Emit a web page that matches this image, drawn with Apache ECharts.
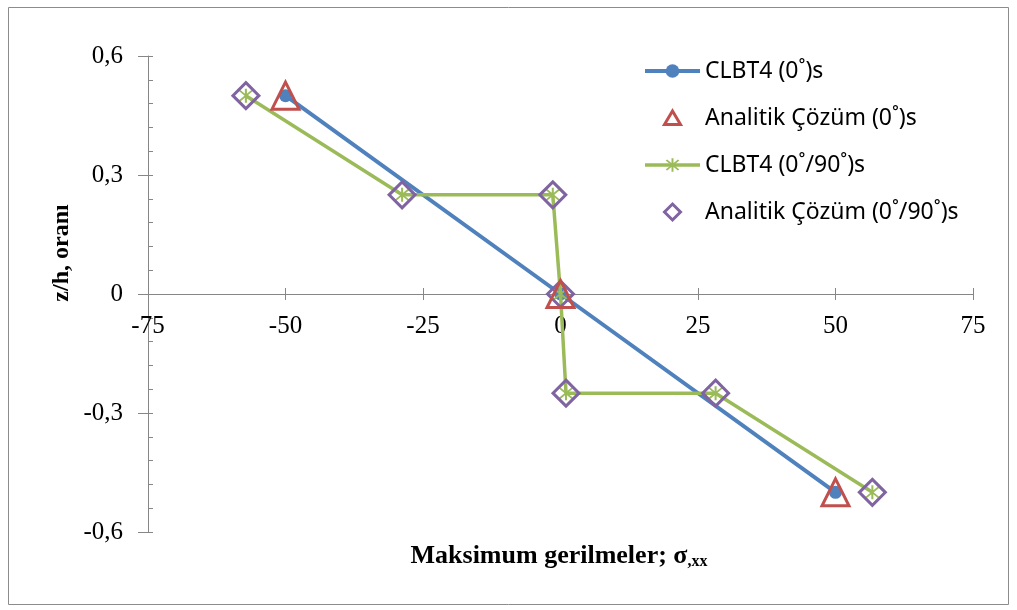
<!DOCTYPE html>
<html>
<head>
<meta charset="utf-8">
<title>Maksimum gerilmeler</title>
<script src="https://cdn.jsdelivr.net/npm/echarts@6/dist/echarts.min.js"></script>
<style>
  html, body { margin: 0; padding: 0; background: #fff; }
  #chart { width: 1017px; height: 610px; }
</style>
</head>
<body>
<div id="chart"></div>
<script>
// Series names as shown in the legend
const seriesNames = [
  'CLBT4 (0˚)s',
  'Analitik Çözüm (0˚)s',
  'CLBT4 (0˚/90˚)s',
  'Analitik Çözüm (0˚/90˚)s'
];

// [σxx, z/h] pairs
const clbt4Cross0 = [[-50, 0.5], [0, 0], [50, -0.5]];
const analytic0 = [[-50, 0.5], [0, 0], [50, -0.5]];
const clbt4Cross090 = [[-57.2, 0.5], [-28.8, 0.25], [-1.4, 0.25], [0, 0], [1, -0.25], [28.2, -0.25], [56.7, -0.5]];
const analytic090 = [[-57.2, 0.5], [-28.8, 0.25], [-1.4, 0.25], [0, 0], [1, -0.25], [28.2, -0.25], [56.7, -0.5]];

// Axis ranges and steps
const xRange = { min: -75, max: 75, step: 25 };
const yRange = { min: -0.6, max: 0.6, step: 0.3, minorStep: 0.06 };

const W = 1017, H = 610;
const grid = { left: 148, right: 44, top: 56, bottom: 78 };
const plotH = H - grid.top - grid.bottom;
// The horizontal axis sits on z/h = 0: shift it up from the grid bottom
const xAxisOffset = -plotH * (0 - yRange.min) / (yRange.max - yRange.min);

const axisGray = '#868686';
const serif = '"Liberation Serif", "Times New Roman", serif';
const sans = '"Noto Sans", sans-serif';

const blue = '#4F81BD', red = '#C0504D', green = '#9BBB59', purple = '#8064A2';
const clear = 'rgba(255,255,255,0)';

// Asterisk marker: vertical bar plus two diagonals
const asterisk = 'path://M-1.2,-10 L1.2,-10 L1.2,10 L-1.2,10 Z ' +
  'M-8.2,-6.5 L-6.5,-8.2 L8.2,6.5 L6.5,8.2 Z ' +
  'M6.5,-8.2 L8.2,-6.5 L-6.5,8.2 L-8.2,6.5 Z';

// Legend icons for the marker-only series, framed in the full legend item box
const legendFrame = 'M-27.5,-8.5 M27.5,8.5 ';
const legendTriangle = 'path://' + legendFrame + 'M0,-7 L8,6.5 L-8,6.5 Z';
const legendDiamond = 'path://' + legendFrame + 'M0,-8 L8,0 L0,8 L-8,0 Z';

const chart = echarts.init(document.getElementById('chart'), null, { renderer: 'canvas' });

const commaFmt = v => {
  const r = Math.round(v * 10) / 10;
  return String(r).replace('.', ',');
};

chart.setOption({
  animation: false,
  backgroundColor: '#fff',
  grid: Object.assign({ containLabel: false, outerBoundsMode: 'none' }, grid),
  legend: {
    orient: 'vertical',
    left: 643,
    top: 58,
    padding: 0,
    itemWidth: 55,
    itemHeight: 17,
    itemGap: 21,
    textStyle: { fontFamily: sans, fontSize: 23, color: '#000', lineHeight: 26 },
    data: [
      { name: seriesNames[0], lineStyle: { width: 4 } },
      { name: seriesNames[1], icon: legendTriangle,
        itemStyle: { color: clear, borderColor: red, borderWidth: 3, opacity: 1 } },
      { name: seriesNames[2], lineStyle: { width: 3.5 } },
      { name: seriesNames[3], icon: legendDiamond,
        itemStyle: { color: clear, borderColor: purple, borderWidth: 3, opacity: 1 } }
    ]
  },
  xAxis: [
    {
      type: 'value',
      position: 'bottom',
      offset: xAxisOffset,
      min: xRange.min, max: xRange.max, interval: xRange.step,
      axisLine: { onZero: false, lineStyle: { color: axisGray, width: 1 } },
      axisTick: { show: true, length: 6, lineStyle: { color: axisGray } },
      axisLabel: { margin: 20, fontFamily: serif, fontSize: 25, color: '#000' },
      splitLine: { show: false }
    },
    {
      type: 'value',
      position: 'bottom',
      offset: xAxisOffset,
      min: xRange.min, max: xRange.max, interval: xRange.step,
      axisLine: { show: false, onZero: false },
      axisTick: { show: true, inside: true, length: 6, lineStyle: { color: axisGray } },
      axisLabel: { show: false },
      splitLine: { show: false }
    }
  ],
  yAxis: [
    {
      type: 'value',
      min: yRange.min, max: yRange.max, interval: yRange.step,
      axisLine: { show: true, onZero: false, lineStyle: { color: axisGray, width: 1 } },
      axisTick: { show: true, length: 10, lineStyle: { color: axisGray } },
      axisLabel: { margin: 25, fontFamily: serif, fontSize: 25, color: '#000', formatter: commaFmt },
      splitLine: { show: false }
    },
    {
      type: 'value',
      min: yRange.min, max: yRange.max, interval: yRange.minorStep,
      position: 'left',
      axisLine: { show: false, onZero: false },
      axisTick: { show: true, inside: true, length: 5, lineStyle: { color: axisGray } },
      axisLabel: { show: false },
      splitLine: { show: false }
    }
  ],
  series: [
    {
      name: seriesNames[0],
      type: 'line',
      data: clbt4Cross0,
      symbol: 'circle',
      symbolSize: 13,
      lineStyle: { color: blue, width: 4 },
      itemStyle: { color: blue },
      z: 2
    },
    {
      name: seriesNames[1],
      type: 'scatter',
      data: analytic0,
      symbol: 'triangle',
      symbolSize: 27,
      itemStyle: { color: clear, borderColor: red, borderWidth: 3, opacity: 1 },
      z: 5
    },
    {
      name: seriesNames[2],
      type: 'line',
      data: clbt4Cross090,
      symbol: asterisk,
      symbolSize: 14,
      lineStyle: { color: green, width: 3.5 },
      itemStyle: { color: green },
      z: 3
    },
    {
      name: seriesNames[3],
      type: 'scatter',
      data: analytic090,
      symbol: 'diamond',
      symbolSize: 26,
      itemStyle: { color: clear, borderColor: purple, borderWidth: 3, opacity: 1 },
      z: 4
    }
  ],
  graphic: [
    {
      type: 'rect',
      shape: { x: 8.5, y: 7.5, width: 1000, height: 597 },
      style: { fill: 'none', stroke: '#8c8c8c', lineWidth: 1 },
      silent: true, z: -1
    },
    {
      type: 'text',
      x: 62, y: 253,
      rotation: Math.PI / 2,
      style: {
        text: 'z/h, oranı',
        font: 'bold 24px ' + serif,
        fill: '#000',
        align: 'center',
        verticalAlign: 'middle'
      }
    },
    {
      type: 'text',
      x: 559, y: 556,
      style: {
        text: '{m|Maksimum gerilmeler; σ}{s|,xx}',
        fill: '#000',
        align: 'center',
        verticalAlign: 'middle',
        rich: {
          m: { font: 'bold 26px ' + serif, fill: '#000' },
          s: { font: 'bold 16px ' + serif, fill: '#000', padding: [12, 0, 0, 0] }
        }
      }
    }
  ]
});
</script>
</body>
</html>
